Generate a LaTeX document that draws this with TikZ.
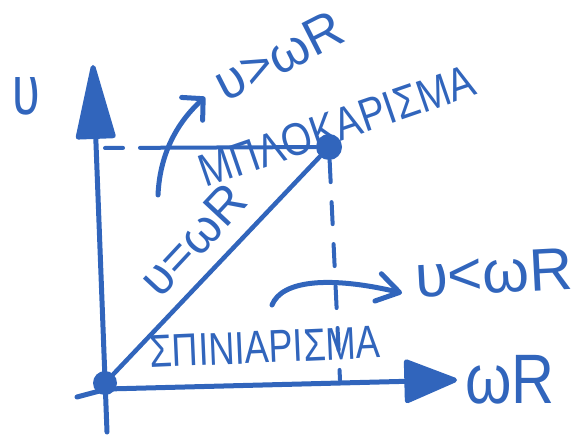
\documentclass[tikz,border=0pt]{standalone}
\usepackage{fontspec}
\setmainfont{Liberation Sans}
\usepackage{graphicx}
\usetikzlibrary{arrows.meta}
\definecolor{ink}{RGB}{49,101,188}
\newcommand\hwtxt[3]{\fontsize{#1}{#1}\selectfont\scalebox{#2}[1]{#3}}
\begin{document}
\begin{tikzpicture}[x=1pt,y=-1pt, line cap=round, line join=round,
  pen/.style={draw=ink, line width=5pt},
  lbl/.style={text=ink, inner sep=0pt},
  dotnode/.style={circle, fill=ink, inner sep=0pt, minimum size=#1}]
\useasboundingbox (0,0) rectangle (577,435);
% positions
\coordinate (vbot) at (107,432);
\coordinate (vtop) at (93,65);
\coordinate (hleft) at (77,397);
\coordinate (hmid) at (107,389);
\coordinate (hend) at (457,380);
\coordinate (hd) at (105,148);
\coordinate (vd) at (340,380);
\coordinate (a1s) at (158,195);
\coordinate (a1e) at (205,97);
\coordinate (a2s) at (272,305);
\coordinate (a2e) at (402,293);
% dots
\node[dotnode=24pt] (O) at (105,383) {};
\node[dotnode=26pt] (P) at (329,147) {};
% axes
\draw[pen, -{Triangle[length=82pt,width=40pt,round]}] (vbot) -- (vtop);
\draw[pen, -{Triangle[length=57pt,width=45pt,round]}] (hleft) -- (hmid) -- (hend);
% diagonal
\draw[pen, line width=4.5pt] (O) -- (P);
% dashed guides
\draw[pen, line width=4pt, dash pattern=on 18pt off 17pt on 400pt] (hd) -- (P);
\draw[pen, line width=4pt, dash pattern=on 22pt off 20pt] (P) -- (vd);
% curved arrows
\draw[pen, -{Straight Barb[length=15pt,width=31pt,round]}] (a1s) .. controls (160,150) and (180,120) .. (a1e);
\draw[pen, -{Straight Barb[length=22pt,width=28pt,round]}] (a2s) .. controls (282,280) and (330,276) .. (a2e);
% labels
\node[lbl] (lv) at (26,96) {\hwtxt{70}{0.72}{υ}};
\node[lbl, rotate=27] (lgt) at (279,56) {\hwtxt{52}{1}{υ>ωR}};
\node[lbl, rotate=19] (lblock) at (337,126) {\hwtxt{46}{0.85}{ΜΠΛΟΚΑΡΙΣΜΑ}};
\node[lbl, rotate=47] (leq) at (193,240) {\hwtxt{50}{1}{υ=ωR}};
\node[lbl, rotate=3] (llt) at (494,273) {\hwtxt{60}{1}{υ<ωR}};
\node[lbl, rotate=2.5] (lspin) at (265,347) {\hwtxt{46}{0.79}{ΣΠΙΝΙΑΡΙΣΜΑ}};
\node[lbl] (lwr) at (510,380) {\hwtxt{70}{0.85}{ωR}};
\end{tikzpicture}
\end{document}
